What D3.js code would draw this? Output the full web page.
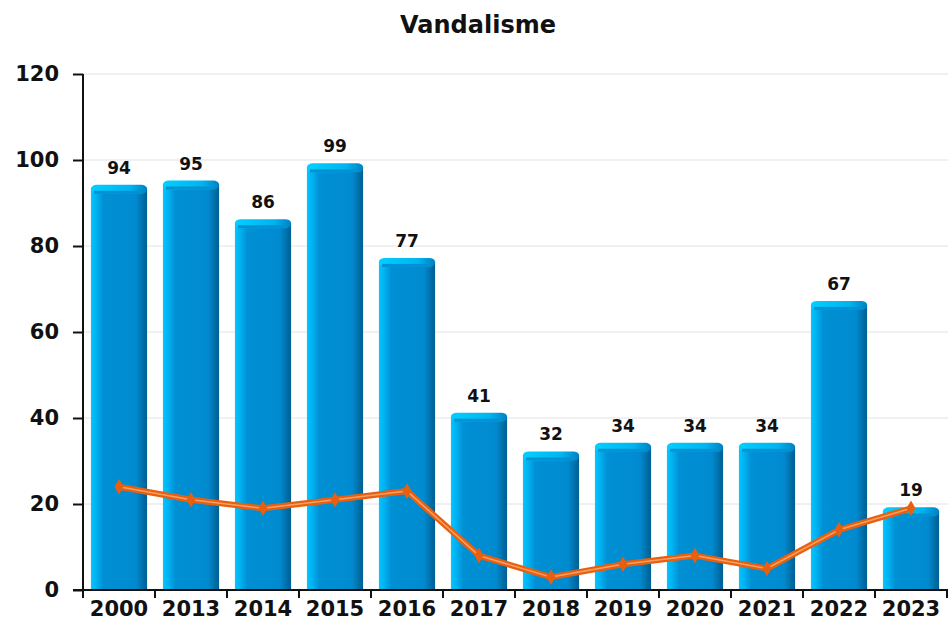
<!DOCTYPE html>
<html lang="en">
<head>
<meta charset="UTF-8">
<title>Vandalisme</title>
<script src="https://d3js.org/d3.v7.min.js"></script>
<style>
  body { margin: 0; background: #fff; }
  text { font-family: "DejaVu Sans", sans-serif; font-weight: bold; fill: #111; }
</style>
</head>
<body>
<script>
// data
const years = ["2000","2013","2014","2015","2016","2017","2018","2019","2020","2021","2022","2023"];
const counts = [94, 95, 86, 99, 77, 41, 32, 34, 34, 34, 67, 19];
const trend = [24, 21, 19, 21, 23, 8, 3, 6, 8, 5, 14, 19];
const yTicks = [0, 20, 40, 60, 80, 100, 120];

const W = 948, H = 625;
const margin = {top: 74, right: 1, bottom: 35, left: 83};

const svg = d3.select("body").append("svg").attr("width", W).attr("height", H);

const x = d3.scaleBand().domain(years).range([margin.left, W - margin.right]).paddingInner(0.22).paddingOuter(0.11);
const xb = d3.scaleBand().domain(years).range([margin.left, W - margin.right]);
const y = d3.scaleLinear().domain([0, 120]).range([H - margin.bottom, margin.top]);

// gradients for the bars
const defs = svg.append("defs");
const g1 = defs.append("linearGradient").attr("id", "barGrad").attr("x1", 0).attr("x2", 1).attr("y1", 0).attr("y2", 0);
g1.append("stop").attr("offset", "0%").attr("stop-color", "#00c8ff");
g1.append("stop").attr("offset", "10%").attr("stop-color", "#00b0f0");
g1.append("stop").attr("offset", "22%").attr("stop-color", "#0090d4");
g1.append("stop").attr("offset", "80%").attr("stop-color", "#008bd0");
g1.append("stop").attr("offset", "100%").attr("stop-color", "#005e92");
const g2 = defs.append("linearGradient").attr("id", "capGrad").attr("x1", 0).attr("x2", 1).attr("y1", 0).attr("y2", 0);
g2.append("stop").attr("offset", "0%").attr("stop-color", "#00d0ff");
g2.append("stop").attr("offset", "70%").attr("stop-color", "#00b4f0");
g2.append("stop").attr("offset", "100%").attr("stop-color", "#0080c0");

// grid
svg.append("g").selectAll("line").data(yTicks.filter(d => d > 0)).join("line")
  .attr("x1", margin.left).attr("x2", W)
  .attr("y1", d => y(d)).attr("y2", d => y(d))
  .attr("stroke", "#e2e2e2").attr("stroke-width", 1);

// title
svg.append("text").attr("x", 478).attr("y", 33).attr("text-anchor", "middle")
  .style("font-size", "24px").text("Vandalisme");

// bars
const bars = svg.append("g").selectAll("g").data(years).join("g");
bars.append("rect")
  .attr("x", d => x(d)).attr("width", x.bandwidth())
  .attr("y", (d, i) => y(counts[i]) + 3)
  .attr("height", (d, i) => y(0) - y(counts[i]) - 3)
  .attr("fill", "url(#barGrad)");
bars.append("rect")
  .attr("x", d => x(d)).attr("width", x.bandwidth())
  .attr("y", (d, i) => y(counts[i]) - 1)
  .attr("height", 9).attr("rx", 6).attr("ry", 4)
  .attr("fill", "url(#capGrad)");
bars.append("rect")
  .attr("x", d => x(d) + 3).attr("width", x.bandwidth() - 8)
  .attr("y", (d, i) => y(counts[i]) + 5)
  .attr("height", 3)
  .attr("fill", "#0090d4");

// value labels
svg.append("g").selectAll("text").data(years).join("text")
  .attr("x", d => x(d) + x.bandwidth() / 2)
  .attr("y", (d, i) => y(counts[i]) - 12)
  .attr("text-anchor", "middle")
  .style("font-size", "17px")
  .text((d, i) => counts[i]);

// trend line
const line = d3.line().x((d, i) => xb(years[i]) + xb.bandwidth() / 2).y(d => y(d));
svg.append("path").datum(trend).attr("d", line)
  .attr("fill", "none").attr("stroke", "#e8600f").attr("stroke-width", 6).attr("stroke-linejoin", "round");
svg.append("path").datum(trend).attr("d", line)
  .attr("fill", "none").attr("stroke", "#f7a066").attr("stroke-width", 1.5).attr("stroke-linejoin", "round");
svg.append("g").selectAll("path").data(trend).join("path")
  .attr("d", d3.symbol().type(d3.symbolDiamond).size(70))
  .attr("transform", (d, i) => `translate(${xb(years[i]) + xb.bandwidth() / 2},${y(d)})`)
  .attr("fill", "#e8600f");

// axes
const yAxis = svg.append("g").attr("transform", `translate(${margin.left},0)`)
  .call(d3.axisLeft(y).tickValues(yTicks).tickSize(10).tickPadding(14));
const xAxis = svg.append("g").attr("transform", `translate(0,${y(0)})`)
  .call(d3.axisBottom(xb).tickSize(0).tickPadding(10));
// category boundary ticks
svg.append("g").selectAll("line").data(years).join("line")
  .attr("x1", d => xb(d) + xb.bandwidth()).attr("x2", d => xb(d) + xb.bandwidth())
  .attr("y1", y(0)).attr("y2", y(0) + 8)
  .attr("stroke", "#111").attr("stroke-width", 2);
svg.append("line").attr("x1", margin.left).attr("x2", margin.left)
  .attr("y1", y(0)).attr("y2", y(0) + 8).attr("stroke", "#111").attr("stroke-width", 2);

[yAxis, xAxis].forEach(a => {
  a.selectAll(".domain").attr("stroke", "#111").attr("stroke-width", 2);
  a.selectAll(".tick line").attr("stroke", "#111").attr("stroke-width", 2);
  a.selectAll("text").style("font-size", "21px").style("font-family", "DejaVu Sans").style("font-weight", "bold").attr("fill", "#111");
});
yAxis.select(".domain").attr("d", `M0,${y(0)}V${y(120)}`);
yAxis.selectAll(".tick line").attr("x1", 0).attr("x2", -10);
xAxis.select(".domain").attr("d", `M${margin.left - 10},0H${W}`);
xAxis.selectAll("text").attr("dy", "0.75em");
</script>
</body>
</html>
